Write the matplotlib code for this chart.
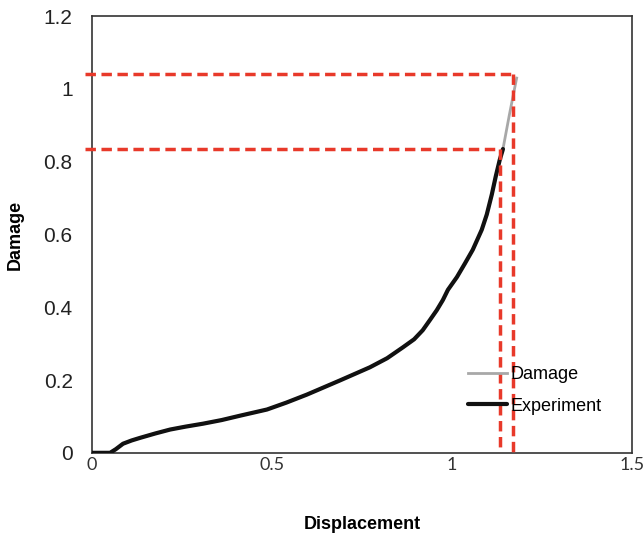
import matplotlib.pyplot as plt
import numpy as np

# curve
disp = [0.0, 0.05, 0.066, 0.086, 0.110, 0.133, 0.175, 0.217, 0.260, 0.308, 0.360, 0.411, 0.486, 0.540, 0.597, 0.689, 0.772, 0.820, 0.864, 0.895, 0.919, 0.939, 0.958, 0.975, 0.989, 1.014, 1.036, 1.058, 1.083, 1.097, 1.111, 1.122, 1.133, 1.142]
damage_exp = [0.0, 0.0, 0.010, 0.025, 0.034, 0.041, 0.053, 0.064, 0.072, 0.080, 0.090, 0.102, 0.119, 0.138, 0.160, 0.199, 0.235, 0.260, 0.290, 0.312, 0.337, 0.365, 0.392, 0.420, 0.448, 0.483, 0.520, 0.558, 0.613, 0.655, 0.710, 0.760, 0.805, 0.835]
disp_model = [1.142, 1.16, 1.18]
damage_model = [0.835, 0.93, 1.03]

# red guide lines
x_fail = [1.17, 1.135]
y_fail = [1.04, 0.835]

plt.rcParams['font.family'] = ['Liberation Sans', 'DejaVu Sans']

fig = plt.figure(figsize=(6.44, 5.41), dpi=100)
ax = fig.add_axes([0.143, 0.163, 0.838, 0.807])

ax.plot(disp + disp_model[1:], damage_exp + damage_model[1:], color='#a8a8a8', lw=2, label='Damage', zorder=3)
ax.plot(disp, damage_exp, color='#111111', lw=3, label='Experiment', zorder=4,
        solid_joinstyle='round', solid_capstyle='round')

for xf, yf in zip(x_fail, y_fail):
    ax.plot([-0.02, xf], [yf, yf], color='#e8392a', lw=2.5, ls=(0, (3, 1.6)), clip_on=False, zorder=5)
    ax.plot([xf, xf], [yf, 0], color='#e8392a', lw=2.5, ls=(0, (3, 1.6)), zorder=5)

ax.set_xlim(0, 1.5)
ax.set_ylim(0, 1.2)
ax.set_xticks([0, 0.5, 1, 1.5])
ax.set_xticklabels(['0', '0.5', '1', '1.5'], fontsize=13, family=['Lato', 'DejaVu Sans'], color='#333333')
ax.set_yticks([0, 0.2, 0.4, 0.6, 0.8, 1, 1.2])
ax.set_yticklabels(['0', '0.2', '0.4', '0.6', '0.8', '1', '1.2'], fontsize=15, color='#222222')
ax.tick_params(length=0)
ax.tick_params(axis='x', pad=3)
ax.tick_params(axis='y', pad=14)

ax.set_xlabel('Displacement', fontsize=13, fontweight='bold', labelpad=31)
ax.set_ylabel('Damage', fontsize=13, fontweight='bold', labelpad=14)

for s in ax.spines.values():
    s.set_color('#333333')
    s.set_linewidth(1.2)

ax.legend(loc='lower right', bbox_to_anchor=(0.975, 0.05), frameon=False, fontsize=13,
          handlelength=2.2, handletextpad=0.2, labelspacing=0.8)

fig.savefig('out.png', dpi=100)
